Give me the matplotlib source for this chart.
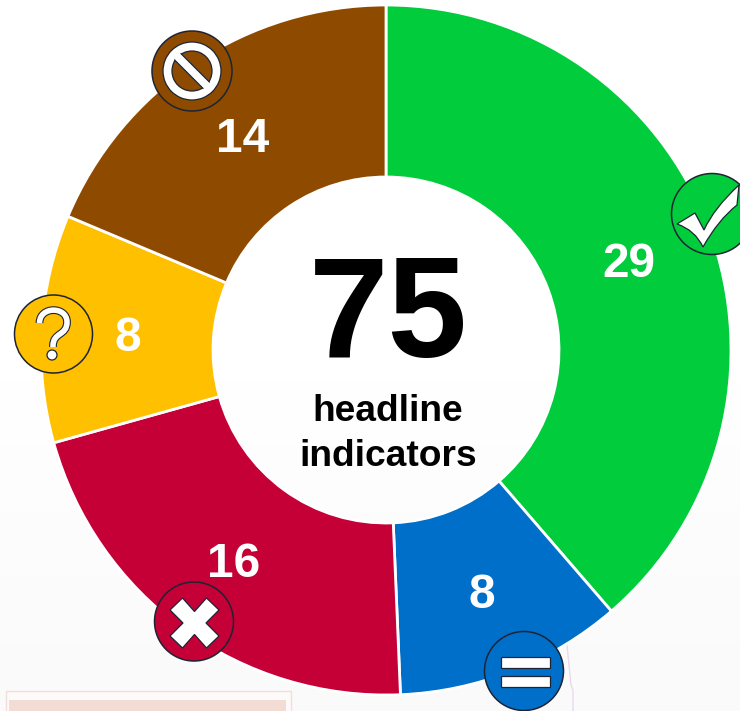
import numpy as np
import matplotlib
matplotlib.use("Agg")
import matplotlib.pyplot as plt
from matplotlib.patches import Circle, Polygon, Rectangle, PathPatch, Wedge
from matplotlib.path import Path

plt.rcParams['font.family'] = ['Liberation Sans', 'DejaVu Sans']

# the five groups, clockwise from the top
values = [29, 8, 16, 8, 14]
colors = ['#00CC3C', '#006FC9', '#C50036', '#FFC000', '#8E4B00']
total_label = "75"

W, H = 740, 711
cx, cy = 386, 350
outer = 345
inner = 173
label_r = 259
DARK = '#1d2433'

fig = plt.figure(figsize=(W / 100, H / 100), dpi=100)
ax = fig.add_axes([0, 0, 1, 1])

# faint page background, white at the top fading a little lower down
grad = np.ones((H, 1, 3))
fade = np.clip((np.arange(H) - 380) / 300, 0, 1)
grad[:, 0, 0] = 1 - 0.018 * fade
grad[:, 0, 1] = 1 - 0.018 * fade
grad[:, 0, 2] = 1 - 0.016 * fade
ax.imshow(grad, extent=[0, W, H, 0], aspect='auto', zorder=0)

# bits of the page showing under the ring
ax.add_patch(Rectangle((5.5, 690.5), 285, 30, fc='#fdfafa', ec='#f3dfd9', lw=1, zorder=1))
ax.add_patch(Rectangle((9, 700), 277, 20, fc='#f3dcd4', ec='none', zorder=1))
ax.plot([567, 571, 573, 573], [645, 685, 690, 711], color='#ead9ee', lw=1, zorder=1)

# y axis runs downwards, so startangle -90 is the top and ccw reads as clockwise
wedges, _ = ax.pie(values, colors=colors, startangle=-90, counterclock=True,
                   center=(cx, cy), radius=outer,
                   wedgeprops=dict(width=outer - inner, edgecolor='white', linewidth=2, zorder=2))
ax.set_xlim(0, W)
ax.set_ylim(H, 0)
ax.set_aspect('auto')
ax.axis('off')

# numbers on the ring
angle = 0
for v in values:
    mid = np.radians(angle + v / sum(values) * 180)
    ax.text(cx + label_r * np.sin(mid), cy - label_r * np.cos(mid) + 5, str(v),
            color='white', fontsize=34.5, fontweight='bold', ha='center', va='center', zorder=6)
    angle += v / sum(values) * 360

ax.text(388, 357, total_label, fontsize=103, fontweight='bold', ha='center', va='baseline', zorder=6)
ax.text(388, 421, "headline", fontsize=26.7, fontweight='bold', ha='center', va='baseline', zorder=6)
ax.text(388, 466, "indicators", fontsize=26.7, fontweight='bold', ha='center', va='baseline', zorder=6)


def badge(x, y, r, color):
    ax.add_patch(Circle((x, y), r, fc=color, ec=DARK, lw=1.1, zorder=7))


# tick
badge(712, 214, 40.5, colors[0])
tick = Path([(677, 224), (695, 213), (704, 230), (714, 208), (739, 185), (737, 205),
             (718, 220), (703, 247), (695, 230), (677, 224), (677, 224)],
            [Path.MOVETO, Path.LINETO, Path.LINETO, Path.CURVE3, Path.CURVE3, Path.LINETO,
             Path.CURVE3, Path.CURVE3, Path.CURVE3, Path.CURVE3, Path.CLOSEPOLY])
ax.add_patch(PathPatch(tick, fc='white', ec=DARK, lw=0.9, zorder=8))

# equals
badge(524, 671, 39.5, colors[1])
ax.add_patch(Rectangle((501, 657), 49, 11, fc='white', ec=DARK, lw=0.9, zorder=8))
ax.add_patch(Rectangle((501, 676), 49, 11, fc='white', ec=DARK, lw=0.9, zorder=8))

# cross
badge(194, 621.5, 39.5, colors[2])
x0, y0 = 194.5, 623
arm = [(0, -11.5), (12, -25), (24.5, -13), (11.5, 0), (24.5, 13), (12, 25),
       (0, 11.5), (-12, 25), (-24.5, 13), (-11.5, 0), (-24.5, -13), (-12, -25)]
ax.add_patch(Polygon([(x0 + a, y0 + b) for a, b in arm], closed=True, fc='white', ec=DARK, lw=0.9, zorder=8))

# question mark, dark stroke under a white one
badge(53.5, 334, 39, colors[3])
q = Path([(39.5, 323), (39.5, 306), (67, 306), (67, 322), (67, 336), (53, 332), (53, 346), (53, 347)],
         [Path.MOVETO, Path.CURVE4, Path.CURVE4, Path.CURVE4, Path.CURVE4, Path.CURVE4, Path.CURVE4, Path.LINETO])
ax.add_patch(PathPatch(q, fc='none', ec=DARK, lw=5.6, capstyle='butt', zorder=8))
ax.add_patch(PathPatch(q, fc='none', ec='white', lw=4.0, capstyle='butt', zorder=9))
ax.add_patch(Circle((52, 355), 5, fc='white', ec=DARK, lw=0.9, zorder=8))

# no entry: ring first, then the bar laid over it with only its long sides outlined
bx, by = 192, 71
badge(bx, by, 40, colors[4])
ax.add_patch(Wedge((bx, by), 29, 0, 360, width=9, fc='white', ec=DARK, lw=0.9, zorder=8))
reach, half = 21, 4.5
d = np.array([1, 1]) / np.sqrt(2)
n = np.array([1, -1]) / np.sqrt(2)
c = np.array([bx, by])
ax.add_patch(Polygon([c - reach * d + half * n, c + reach * d + half * n,
                      c + reach * d - half * n, c - reach * d - half * n],
                     closed=True, fc='white', ec='none', zorder=9))
for s in (1, -1):
    p0, p1 = c - (reach - 1) * d + s * half * n, c + (reach - 1) * d + s * half * n
    ax.plot([p0[0], p1[0]], [p0[1], p1[1]], color=DARK, lw=0.9, zorder=10)

fig.savefig("out.png", dpi=100)
